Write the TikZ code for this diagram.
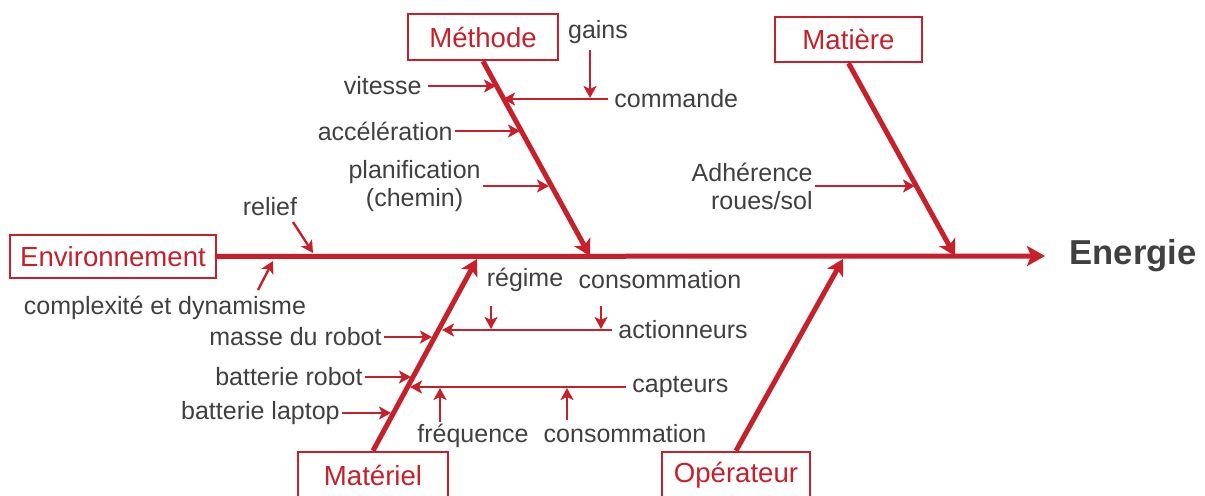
\documentclass[tikz,border=0pt]{standalone}
\usepackage{fontspec}
\setmainfont{Liberation Sans}
\usetikzlibrary{arrows.meta,positioning,calc}
\definecolor{fishred}{RGB}{200,32,42}
\definecolor{fishgrey}{RGB}{64,64,64}

\begin{document}
\begin{tikzpicture}[
    x=0.5pt,y=-0.5pt,
    cat/.style={draw=fishred,line width=1.2pt,text=fishred,minimum width=75pt,minimum height=23pt,inner sep=0pt,font=\fontsize{13.8}{16}\selectfont},
    cause/.style={text=fishgrey,inner sep=3pt,align=center,font=\fontsize{12.5}{14}\selectfont},
    spine/.style={draw=fishred,line width=2.5pt,-{Stealth[length=9pt,width=10pt,inset=2pt]}},
    bone/.style={draw=fishred,line width=2.5pt,-{Stealth[length=8pt,width=9pt,inset=2pt]}},
    twig/.style={draw=fishred,line width=1.2pt,-{Stealth[length=6pt,width=6.5pt,inset=1.5pt]}}
]
\useasboundingbox (0,0) rectangle (1205,496);

% categories
\node[cat,minimum width=103pt,minimum height=21.5pt] (env) at (113,256.5) {Environnement};
\node[cat] (meth) at (483,37) {Méthode};
\node[cat,minimum width=73.5pt,minimum height=22.5pt] (mati) at (848.5,39.5) {Matière};
\node[cat] (mate) at (373,475) {Matériel};
\node[cat,minimum width=74pt] (oper) at (736,475) {Opérateur};
\node[text=fishgrey,inner sep=0pt,font=\fontsize{17.3}{20}\bfseries] (nrj) at (1133,256) {Energie};

% spine and bones
\coordinate (head) at (1045,256);
\coordinate (meth-t) at (590,256);
\coordinate (mati-t) at (955,256);
\coordinate (mate-t) at (477,259);
\coordinate (oper-t) at (843,259);
\draw[spine] (env.east) -- (head);
\draw[bone] (meth.south) -- (meth-t);
\draw[bone] (mati.south) -- (mati-t);
\draw[bone] (mate.north) -- (mate-t);
\draw[bone] (oper.north) -- (oper-t);

% Methode
\node[cause,anchor=east] (vit) at (428,86) {vitesse};
\node[cause,anchor=east,inner sep=1pt] (acc) at (455,131) {accélération};
\node[cause,anchor=east,inner sep=1pt] (plan) at (483,186) {planification\\(chemin)};
\node[cause,anchor=west] (cmd) at (608,99) {commande};
\node[cause] (gain) at (598,32) {gains};
\coordinate (vit-b) at (496,86);
\coordinate (acc-b) at (520,131);
\coordinate (plan-b) at (549,186);
\coordinate (cmd-b) at (503,99);
\coordinate (gain-s) at (590,50);
\coordinate (gain-b) at (590,98);
\draw[twig] (vit.east) -- (vit-b);
\draw[twig] (acc.east) -- (acc-b);
\draw[twig] (plan.east) -- (plan-b);
\draw[twig] (cmd.west) -- (cmd-b);
\draw[twig] (gain-s) -- (gain-b);

% Matiere
\node[cause,anchor=east,align=right,inner sep=1pt] (adh) at (815,186) {Adhérence\\roues/sol};
\coordinate (adh-b) at (915,186);
\draw[twig] (adh.east) -- (adh-b);

% Environnement
\node[cause] (rel) at (270,207) {relief};
\node[cause] (cplx) at (165,308) {complexité et dynamisme};
\coordinate (rel-s) at (293,222);
\coordinate (rel-b) at (313,253);
\coordinate (cplx-s) at (258,290);
\coordinate (cplx-b) at (273,261);
\draw[twig] (rel-s) -- (rel-b);
\draw[twig] (cplx-s) -- (cplx-b);

% Materiel
\node[cause,anchor=east,inner sep=1pt] (mass) at (384,337) {masse du robot};
\node[cause,anchor=east,inner sep=1pt] (batr) at (365,377) {batterie robot};
\node[cause,anchor=east,inner sep=1pt] (batl) at (342,413) {batterie laptop};
\node[cause,anchor=west] (act) at (612,330) {actionneurs};
\node[cause,anchor=west] (capt) at (626,387) {capteurs};
\node[cause] (reg) at (525,280) {régime};
\node[cause] (consa) at (660,280) {consommation};
\node[cause] (freq) at (473,436) {fréquence};
\node[cause] (consc) at (625,434) {consommation};
\coordinate (mass-b) at (432,337);
\coordinate (batr-b) at (411,377);
\coordinate (batl-b) at (391,413);
\coordinate (act-b) at (442,330);
\coordinate (capt-b) at (410,387);
\draw[twig] (mass.east) -- (mass-b);
\draw[twig] (batr.east) -- (batr-b);
\draw[twig] (batl.east) -- (batl-b);
\draw[twig] (act.west) -- (act-b);
\draw[twig] (capt.west) -- (capt-b);
\coordinate (reg-s) at (491,306);
\coordinate (reg-b) at (491,329);
\coordinate (consa-s) at (601,306);
\coordinate (consa-b) at (601,329);
\coordinate (freq-s) at (440,422);
\coordinate (freq-b) at (440,388);
\coordinate (consc-s) at (567,420);
\coordinate (consc-b) at (567,388);
\draw[twig] (reg-s) -- (reg-b);
\draw[twig] (consa-s) -- (consa-b);
\draw[twig] (freq-s) -- (freq-b);
\draw[twig] (consc-s) -- (consc-b);
\end{tikzpicture}
\end{document}
